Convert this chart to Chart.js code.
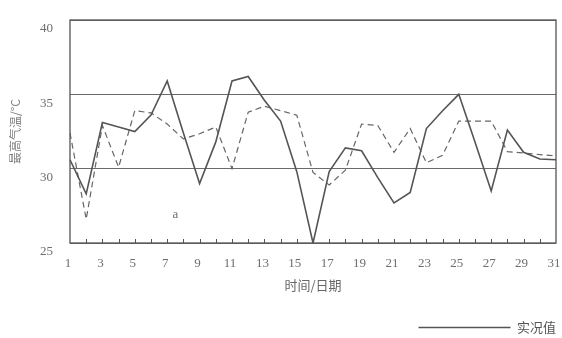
<!DOCTYPE html>
<html>
<head>
<meta charset="utf-8">
<script src="https://cdn.jsdelivr.net/npm/chart.js@4.4.1/dist/chart.umd.min.js"></script>
<style>
  html, body { margin: 0; padding: 0; background: #ffffff; }
  #wrap { width: 562px; height: 338px; position: relative; }
</style>
</head>
<body>
<div id="wrap"><canvas id="c" width="562" height="338"></canvas></div>
<script>
// ---- data ----
const days = ['1','2','3','4','5','6','7','8','9','10','11','12','13','14','15','16','17','18','19','20','21','22','23','24','25','26','27','28','29','30','31'];
const actualTemp = [30.6, 28.3, 33.1, 32.8, 32.5, 33.6, 35.9, 32.4, 29.0, 31.8, 35.9, 36.2, 34.6, 33.2, 29.8, 25.0, 29.8, 31.4, 31.2, 29.4, 27.7, 28.4, 32.7, 33.9, 35.0, 31.8, 28.5, 32.6, 31.1, 30.65, 30.6];
const forecastTemp = [32.4, 26.6, 32.9, 30.1, 33.9, 33.75, 33.0, 32.0, 32.35, 32.8, 30.0, 33.8, 34.2, 33.9, 33.6, 29.75, 28.9, 29.9, 33.0, 32.9, 31.1, 32.7, 30.4, 30.9, 33.2, 33.2, 33.2, 31.15, 31.05, 30.95, 30.85];
const yTicks = [25, 30, 35, 40];
const yTitle = '最高气温/°C';
const xTitle = '时间/日期';
const legendText = '实况值';
const panelLabel = 'a';

const ink = '#555555';
const textInk = '#6e6e6e';

const framePlugin = {
  id: 'frame',
  afterDatasetsDraw(chart) {
    const ctx = chart.ctx;
    const a = chart.chartArea;
    const xs = chart.scales.x;
    ctx.save();
    ctx.strokeStyle = ink;
    ctx.lineWidth = 1.3;
    ctx.strokeRect(a.left, a.top, a.right - a.left, a.bottom - a.top);
    // inward tick marks at every day
    ctx.lineWidth = 1;
    for (let i = 1; i < xs.ticks.length - 1; i++) {
      const x = Math.round(xs.getPixelForTick(i)) + 0.5;
      ctx.beginPath();
      ctx.moveTo(x, a.bottom);
      ctx.lineTo(x, a.bottom - 4);
      ctx.stroke();
    }
    // panel label
    ctx.fillStyle = textInk;
    ctx.font = '13px "Liberation Serif"';
    ctx.textAlign = 'center';
    ctx.textBaseline = 'middle';
    const px = xs.getPixelForValue(6.5);
    const py = chart.scales.y.getPixelForValue(26.9);
    ctx.fillText(panelLabel, px, py);
    ctx.restore();
  }
};

new Chart(document.getElementById('c'), {
  type: 'line',
  data: {
    labels: days,
    datasets: [
      {
        label: legendText,
        data: actualTemp,
        borderColor: ink,
        backgroundColor: ink,
        borderWidth: 1.6,
        pointRadius: 0,
        tension: 0,
        fill: false
      },
      {
        label: '预报值',
        data: forecastTemp,
        borderColor: '#666666',
        backgroundColor: '#666666',
        borderWidth: 1.2,
        borderDash: [6, 4],
        pointRadius: 0,
        tension: 0,
        fill: false
      }
    ]
  },
  options: {
    responsive: false,
    animation: false,
    layout: { padding: { left: 0, right: 6, top: 20, bottom: -6 } },
    plugins: {
      tooltip: { enabled: false },
      legend: {
        display: true,
        position: 'bottom',
        align: 'end',
        labels: {
          boxWidth: 92,
          boxHeight: 1.5,
          padding: 0,
          color: '#555',
          font: { family: '"Noto Sans CJK SC"', size: 13 },
          generateLabels: () => [{
            text: legendText,
            fillStyle: ink,
            strokeStyle: ink,
            lineWidth: 0,
            hidden: false,
            datasetIndex: 0,
            fontColor: '#555'
          }]
        }
      }
    },
    scales: {
      x: {
        type: 'category',
        offset: false,
        grid: { display: false, drawTicks: false },
        border: { display: false },
        afterFit: (s) => { s.height = 78; s.paddingLeft = 0; s.paddingRight = 0; },
        ticks: {
          autoSkip: false,
          maxRotation: 0,
          minRotation: 0,
          padding: 13,
          labelOffset: -2,
          color: textInk,
          font: { family: '"Liberation Serif"', size: 13 },
          callback: function (v, i) { return (i % 2 === 0) ? days[i] : ''; }
        },
        title: {
          display: true,
          text: xTitle,
          color: '#666',
          font: { family: '"Noto Sans CJK SC"', size: 13 },
          padding: { top: 6, bottom: 28 }
        }
      },
      y: {
        min: 25,
        max: 40,
        afterBuildTicks: (s) => { s.ticks = yTicks.map(v => ({ value: v })); },
        afterFit: (s) => { s.width = 70; s.paddingTop = 0; s.paddingBottom = 0; },
        grid: { display: true, drawTicks: false, color: '#6a6a6a', lineWidth: 1 },
        border: { display: false },
        ticks: {
          padding: 17,
          labelOffset: 9,
          color: textInk,
          font: { family: '"Liberation Serif"', size: 13 }
        },
        title: {
          display: true,
          text: yTitle,
          color: '#808080',
          font: { family: '"Noto Sans CJK SC"', size: 12 },
          padding: { top: 8, bottom: 18 }
        }
      }
    }
  },
  plugins: [framePlugin]
});
</script>
</body>
</html>
